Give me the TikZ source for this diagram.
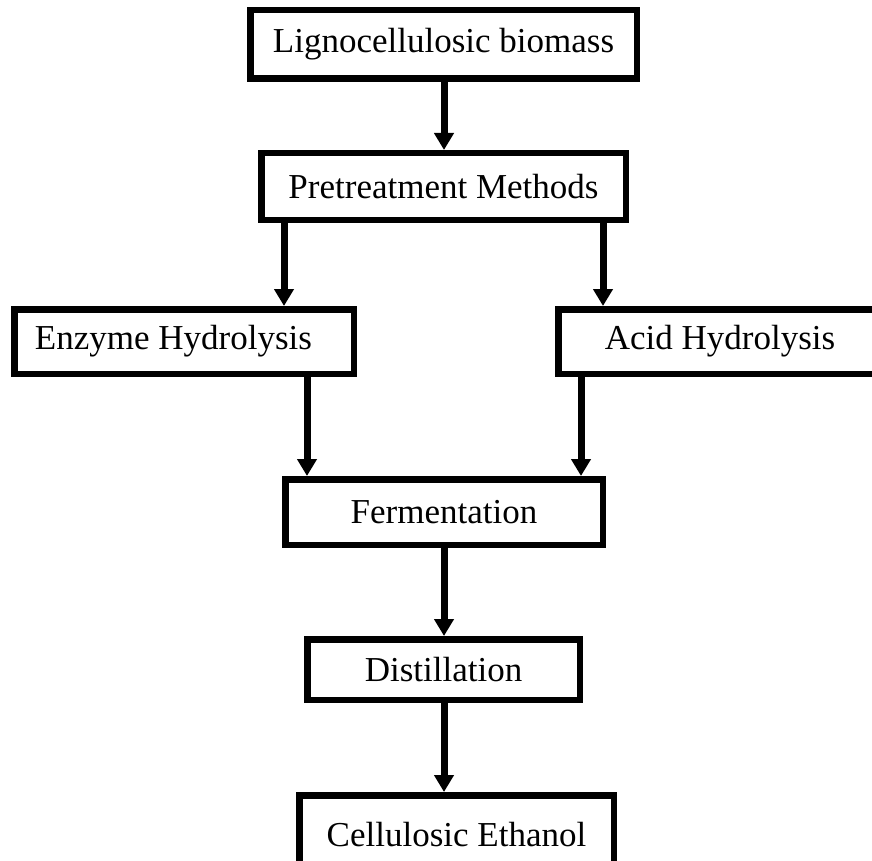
\documentclass[tikz,border=0pt]{standalone}
\usepackage{fontspec}
\setmainfont{Liberation Serif}
\usetikzlibrary{arrows.meta}
\begin{document}
\begin{tikzpicture}[x=1pt,y=-1pt,
  box/.style={draw=black,line width=6.5pt,fill=white,inner sep=0pt,
    font=\fontsize{35}{42}\selectfont,anchor=center},
  arr/.style={line width=7pt,-{Triangle[width=19pt,length=17pt]}}]
\useasboundingbox (0,0) rectangle (872,861);
\clip (0,0) rectangle (872,861);
\node[box,minimum width=386.5pt,minimum height=68.5pt] (b1) at (443.5,44.5) {Lignocellulosic biomass};
\node[box,minimum width=364.5pt,minimum height=66.5pt] (b2) at (443.5,186.5) {Pretreatment Methods};
\node[box,minimum width=339.5pt,minimum height=64.5pt] (b3) at (184,341.5) {Enzyme Hydrolysis\hspace*{21pt}};
\node[box,minimum width=323.5pt,minimum height=64.5pt] (b4) at (720,341.5) {Acid Hydrolysis};
\node[box,minimum width=317.5pt,minimum height=65.5pt] (b5) at (444,512) {Fermentation};
\node[box,minimum width=272.5pt,minimum height=60.5pt] (b6) at (443.5,669.5) {Distillation};
\node[box,minimum width=314.5pt,minimum height=79.5pt] (b7) at (456.5,835) {Cellulosic Ethanol};
\coordinate (xc) at (444,0);
\coordinate (xl) at (284,0);
\coordinate (xr) at (603,0);
\coordinate (xe) at (307,0);
\coordinate (xa) at (581,0);
\draw[arr] (b1.south -| xc) -- (b2.north -| xc);
\draw[arr] (b2.south -| xl) -- (b3.north -| xl);
\draw[arr] (b2.south -| xr) -- (b4.north -| xr);
\draw[arr] (b3.south -| xe) -- (b5.north -| xe);
\draw[arr] (b4.south -| xa) -- (b5.north -| xa);
\draw[arr] (b5.south -| xc) -- (b6.north -| xc);
\draw[arr] (b6.south -| xc) -- (b7.north -| xc);
\end{tikzpicture}
\end{document}
